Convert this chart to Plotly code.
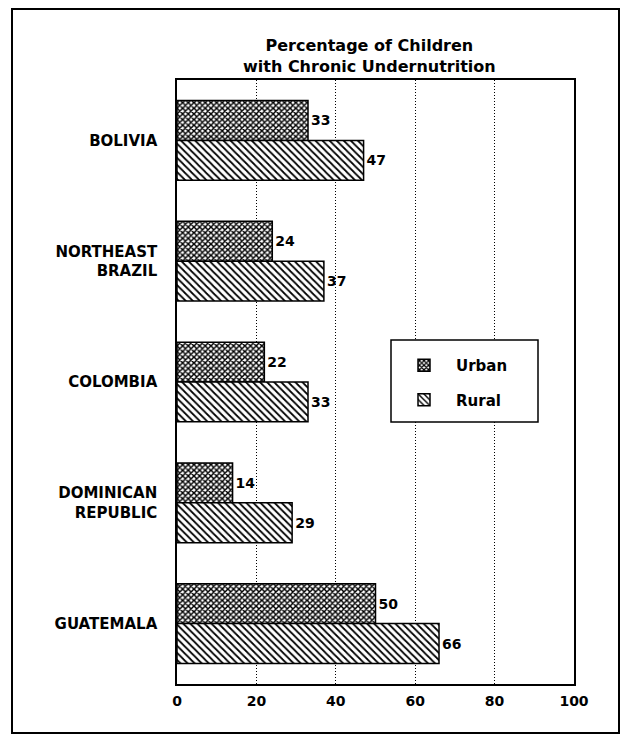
import plotly.graph_objects as go

countries = ["BOLIVIA", "NORTHEAST<br>BRAZIL", "COLOMBIA", "DOMINICAN<br>REPUBLIC", "GUATEMALA"]
urban = [33, 24, 22, 14, 50]
rural = [47, 37, 33, 29, 66]
x_ticks = [0, 20, 40, 60, 80, 100]

FONT = "DejaVu Sans"
OFF = 8  # page body margin offset
W, H = 620, 732
# plot area in screenshot pixels
PX0, PX1, PY0, PY1 = 177, 574, 80, 684
L, R, T, B = PX0 - OFF, W - (PX1 - OFF), PY0 - OFF, H - (PY1 - OFF)
pw, ph = PX1 - PX0, PY1 - PY0

def px_x(p):
    return (p - PX0) / pw

def px_y(p):
    return (PY1 - p) / ph

bold = "bold"

fig = go.Figure()
fig.add_trace(go.Bar(
    y=countries, x=urban, name="Urban", orientation="h", legendgroup="u",
    marker=dict(color="white", line=dict(color="black", width=1.5),
                pattern=dict(shape="x", size=4, solidity=0.6, fgcolor="black", bgcolor="white", fillmode="replace")),
    text=urban, textposition="outside", cliponaxis=False,
    textfont=dict(family=FONT, size=14, color="black", weight=bold),
))
fig.add_trace(go.Bar(
    y=countries, x=rural, name="Rural", orientation="h", legendgroup="r",
    marker=dict(color="white", line=dict(color="black", width=1.5),
                pattern=dict(shape="\\", size=5, solidity=0.35, fgcolor="black", bgcolor="white", fillmode="replace")),
    text=rural, textposition="outside", cliponaxis=False,
    textfont=dict(family=FONT, size=14, color="black", weight=bold),
))

fig.update_layout(
    width=W, height=H,
    margin=dict(l=L, r=R, t=T, b=B),
    paper_bgcolor="white", plot_bgcolor="white",
    barmode="group", bargap=0.34, bargroupgap=0,
    font=dict(family=FONT, color="black", size=14, weight=bold),
    showlegend=True,
    legend=dict(x=px_x(392), y=px_y(349), xanchor="left", yanchor="top",
                borderwidth=0, bgcolor="rgba(0,0,0,0)",
                font=dict(family=FONT, size=15, color="black", weight=bold),
                itemwidth=54, tracegroupgap=12),
    xaxis=dict(range=[0, 100], tickvals=x_ticks, ticktext=[str(v) for v in x_ticks],
               showgrid=True, gridcolor="black", griddash="1px,2px", gridwidth=1,
               showline=True, linecolor="black", linewidth=1.5, mirror=True,
               ticks="", zeroline=False, ticklabelstandoff=3,
               tickfont=dict(family=FONT, size=14, color="black", weight=bold)),
    yaxis=dict(autorange="reversed", showgrid=False, showline=True, linecolor="black",
               linewidth=1.5, mirror=True, ticks="", ticklabelstandoff=15,
               tickfont=dict(family=FONT, size=15, color="black", weight=bold)),
    annotations=[dict(
        text="Percentage of Children<br>with Chronic Undernutrition",
        xref="paper", yref="paper", x=px_x(369), y=px_y(56),
        xanchor="center", yanchor="middle", showarrow=False,
        font=dict(family=FONT, size=16, color="black", weight=bold))],
    shapes=[
        dict(type="rect", xref="paper", yref="paper",
             x0=px_x(12), x1=px_x(619), y0=px_y(733), y1=px_y(OFF + 1),
             line=dict(color="black", width=2), layer="below"),
        dict(type="rect", xref="paper", yref="paper",
             x0=px_x(391), x1=px_x(538), y0=px_y(422), y1=px_y(340),
             line=dict(color="black", width=1.5), fillcolor="white", layer="above"),
    ],
)

fig.write_html("out.html")
